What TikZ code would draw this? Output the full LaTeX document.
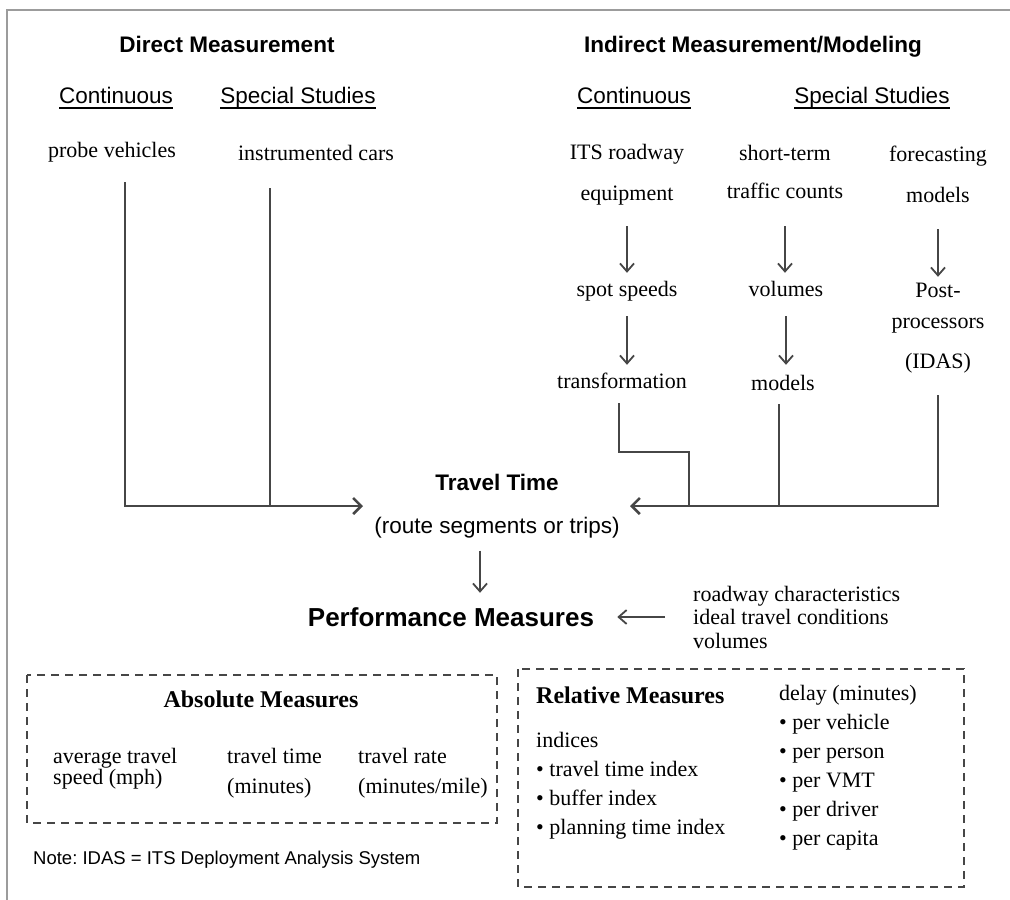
\documentclass[tikz,border=0pt]{standalone}
\usepackage{fontspec}
\setmainfont{Liberation Serif}
\setsansfont{Liberation Sans}
\usetikzlibrary{positioning, calc, arrows.meta}
\definecolor{linegray}{HTML}{464646}
\definecolor{framegray}{HTML}{9C9C9C}
\newcommand{\headul}[1]{\setbox0\hbox{#1}\rlap{\rule[-5.5pt]{\wd0}{1.6pt}}\box0}
\frenchspacing

\tikzset{
  serif/.style={font=\fontsize{22}{24}\selectfont, inner sep=0pt, text height=15pt, text depth=5pt},
  sanstxt/.style={font=\sffamily\fontsize{22.5}{26}\selectfont, inner sep=0pt, text height=16pt, text depth=5pt},
  head/.style={font=\sffamily\bfseries\fontsize{22.5}{26}\selectfont, inner sep=0pt, text height=16pt, text depth=5pt},
  bighead/.style={font=\sffamily\bfseries\fontsize{26}{30}\selectfont, inner sep=0pt, text height=19pt, text depth=5pt},
  boxhead/.style={font=\bfseries\fontsize{24}{28}\selectfont, inner sep=0pt, text height=16pt, text depth=5pt},
  textlist/.style={font=\fontsize{22}{#1}\selectfont, inner sep=0pt, align=left, anchor=north west},
  link/.style={draw=linegray, line width=2.6pt, >={Straight Barb[length=8pt,width=16pt]}},
  flow/.style={draw=linegray, line width=1.8pt, >={Straight Barb[length=8pt,width=14pt]}},
  dashbox/.style={draw=linegray, line width=1.8pt, dash pattern=on 8pt off 6pt},
}

\begin{document}
\begin{tikzpicture}[x=1pt, y=-1pt]
        \useasboundingbox (0,0) rectangle (1010,900);
        %cornice
        \draw[framegray, line width=1.5pt] (7,900) -- (7,10) -- (1010,10);
        %titoli
        \node[head] (dm) at (227,47) {Direct Measurement};
        \node[head] (im) at (753,47) {Indirect Measurement/Modeling};
        \node[sanstxt] (c1) at (116,98) {\headul{Continuous}};
        \node[sanstxt] (s1) at (298,98) {\headul{Special Studies}};
        \node[sanstxt] (c2) at (634,98) {\headul{Continuous}};
        \node[sanstxt] (s2) at (872,98) {\headul{Special Studies}};
        %misura diretta
        \node[serif] (pv) at (112,152) {probe vehicles};
        \node[serif] (ic) at (316,155) {instrumented cars};
        %misura indiretta, colonna ITS
        \node[serif] (its) at (627,154) {ITS roadway};
        \node[serif] (itseq) at (627,195) {equipment};
        \node[serif] (spot) at (627,291) {spot speeds};
        \node[serif] (transf) at (622,383) {transformation};
        %colonna conteggi
        \node[serif] (shortt) at (785,155) {short-term};
        \node[serif] (traffic) at (785,193) {traffic counts};
        \node[serif] (vol) at (786,291) {volumes};
        \node[serif] (modl) at (783,385) {models};
        %colonna previsioni
        \node[serif] (fore) at (938,156) {forecasting};
        \node[serif] (fmod) at (938,197) {models};
        \node[serif] (post) at (938,292) {Post-};
        \node[serif] (proc) at (938,323) {processors};
        \node[serif] (idas) at (938,363) {(IDAS)};
        %frecce nelle colonne
        \draw[flow,->,shorten <=21pt,shorten >=8pt] (itseq.south) -- (itseq.south |- spot.north);
        \draw[flow,->,shorten <=15pt,shorten >=8pt] (spot.south) -- (spot.south |- transf.north);
        \draw[flow,->,shorten <=23pt,shorten >=8pt] (traffic.south) -- (traffic.south |- vol.north);
        \draw[flow,->,shorten <=15pt,shorten >=10pt] (vol.south) -- (vol.south |- modl.north);
        \draw[flow,->,shorten <=22pt,shorten >=5pt] (fmod.south) -- (fmod.south |- post.north);
        %tempo di viaggio
        \node[head] (tt) at (497,485) {Travel Time};
        \node[sanstxt] (route) at (497,528) {(route segments or trips)};
        \coordinate (tl) at (363,506);
        \coordinate (tr) at (630,506);
        \coordinate (step) at (689,452);
        %linee verso il tempo di viaggio
        \draw[link,->,shorten <=20pt] ([xshift=13pt]pv.south) |- (tl);
        \draw[link,shorten <=23pt] ([xshift=-46pt]ic.south) -- ([xshift=-46pt]ic.south |- tl);
        \draw[link,shorten <=10pt] ([xshift=-3pt]transf.south) |- (step) -- (step |- tr);
        \draw[link,shorten <=9pt] ([xshift=-4pt]modl.south) -- ([xshift=-4pt]modl.south |- tr);
        \draw[link,->,shorten <=22pt] (idas.south) |- (tr);
        %misure di prestazione
        \node[bighead] (perf) at (451,619) {Performance Measures};
        \node[textlist=23.5, anchor=west] (cond) at (693,617) {roadway characteristics\\ideal travel conditions\\volumes};
        \draw[flow,->,shorten <=12pt,shorten >=14pt] ([xshift=-17pt]route.south) -- ([xshift=-17pt]route.south |- perf.north);
        \draw[flow,->,shorten <=28pt,shorten >=23pt] (cond.west) -- (cond.west -| perf.east);
        %misure assolute
        \draw[dashbox] (27,675) rectangle (497,823);
        \node[boxhead] (abst) at (261,702) {Absolute Measures};
        \node[textlist=20] (avg) at (53,748) {average travel\\speed (mph)};
        \node[textlist=30] (ttm) at (227,748) {travel time\\(minutes)};
        \node[textlist=30] (rate) at (358,748) {travel rate\\(minutes/mile)};
        \node[font=\sffamily\fontsize{18.5}{22}\selectfont, inner sep=0pt, anchor=west] (note) at (33,860) {Note: IDAS = ITS Deployment Analysis System};
        %misure relative
        \draw[dashbox] (518,669) rectangle (964,887);
        \node[boxhead, anchor=west] (relt) at (536,698) {Relative Measures};
        \node[textlist=29] (idx) at (536,732) {indices\\\textbullet{} travel time index\\\textbullet{} buffer index\\\textbullet{} planning time index};
        \node[textlist=29] (delay) at (779,685) {delay (minutes)\\\textbullet{} per vehicle\\\textbullet{} per person\\\textbullet{} per VMT\\\textbullet{} per driver\\\textbullet{} per capita};
    \end{tikzpicture}
\end{document}
